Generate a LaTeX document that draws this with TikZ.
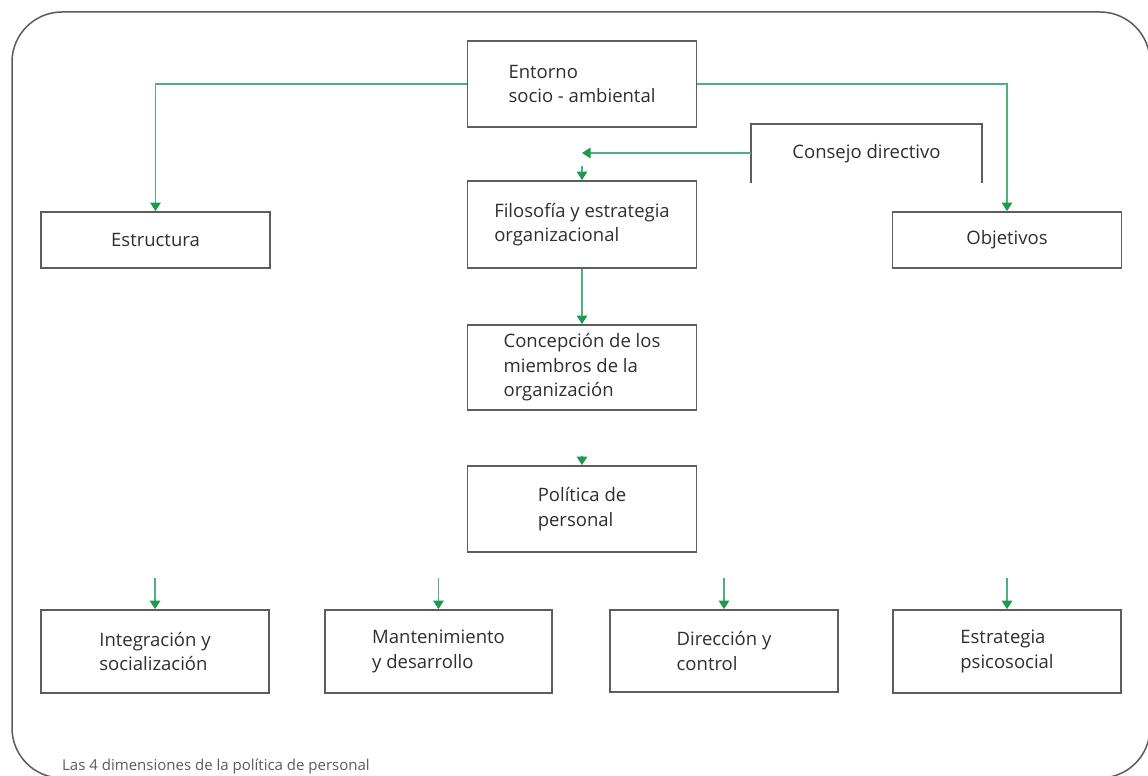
\documentclass[tikz,border=0pt]{standalone}
\usepackage{fontspec}
\setmainfont{Open Sans}
\usetikzlibrary{arrows.meta}
\definecolor{framegray}{HTML}{5E5A58}
\definecolor{boxgray}{HTML}{605C5A}
\definecolor{linkgreen}{HTML}{4DB27A}
\definecolor{tipgreen}{HTML}{1E9A4E}
\definecolor{txt}{HTML}{2E2E2E}
\begin{document}
\begin{tikzpicture}[x=1pt,y=-1pt,
  box/.style={draw=boxgray,line width=1.8pt,inner sep=0pt,align=left,
    font=\fontsize{18.5}{24.5}\selectfont,text=txt},
  tallbox/.style={box,minimum width=229pt,minimum height=86pt},
  flatbox/.style={box,minimum width=229pt,minimum height=56pt},
  lowbox/.style={box,minimum width=228pt,minimum height=83pt},
  link/.style={draw=linkgreen,line width=1.5pt,
    -{Triangle[length=8.5pt,width=10.5pt,color=tipgreen]}}
]
\useasboundingbox (0,0) rectangle (1148,776);
\clip (0,0) rectangle (1148,776);

% outer rounded frame (runs past the right and bottom edges)
\draw[framegray,line width=1.5pt,rounded corners=50pt]
  (12,12) rectangle (1150,778);

% central column
\node[tallbox] (ent) at (582,84) {Entorno\\socio - ambiental};
\node[tallbox,minimum height=87pt] (fil) at (582,224.5) {Filosofía y estrategia\\organizacional};
\node[tallbox,minimum height=85pt] (con) at (582,367.5) {Concepción de los\\miembros de la\\organización};
\node[tallbox] (pol) at (582,509) {Política de\\personal};

% side boxes
\node[flatbox] (est) at (155.5,240) {Estructura};
\node[flatbox] (obj) at (1007,240) {Objetivos};

% board, open at the bottom
\node[box,draw=none,minimum width=229pt,minimum height=57pt] (cd) at (866.5,153.5) {Consejo directivo};
\draw[boxgray,line width=1.8pt] (cd.south west) -- (cd.north west) -- (cd.north east) -- (cd.south east);

% four dimensions
\node[lowbox] (int) at (155,651.5) {Integración y\\socialización};
\node[lowbox,minimum width=227pt] (man) at (438.5,651.5) {Mantenimiento\\y desarrollo};
\node[lowbox,minimum height=82pt] (dir) at (724,651) {Dirección y\\control};
\node[lowbox] (psi) at (1007,651.5) {Estrategia\\psicosocial};

% connectors
\draw[link] (ent.west) -| (est.north);
\draw[link] (ent.east) -| (obj.north);
\coordinate (cdend) at (582,153);
\draw[link] (cd.west |- cdend) -- (cdend);
\coordinate (filin) at (582,166);
\draw[link] (filin) -- (fil.north);
\draw[link] (fil.south) -- (con.north);
\coordinate (polin) at (582,456);
\draw[link] (polin) -- (pol.north);
\foreach \n in {int,man,dir,psi}{
  \coordinate (\n-in) at ([yshift=31pt]\n.north);
  \draw[link] (\n-in) -- (\n.north);
}

% caption
\node[anchor=west,inner sep=0pt,font=\fontsize{15}{16}\selectfont,text=framegray] (cap) at (62,767)
  {Las 4 dimensiones de la política de personal};
\end{tikzpicture}
\end{document}
